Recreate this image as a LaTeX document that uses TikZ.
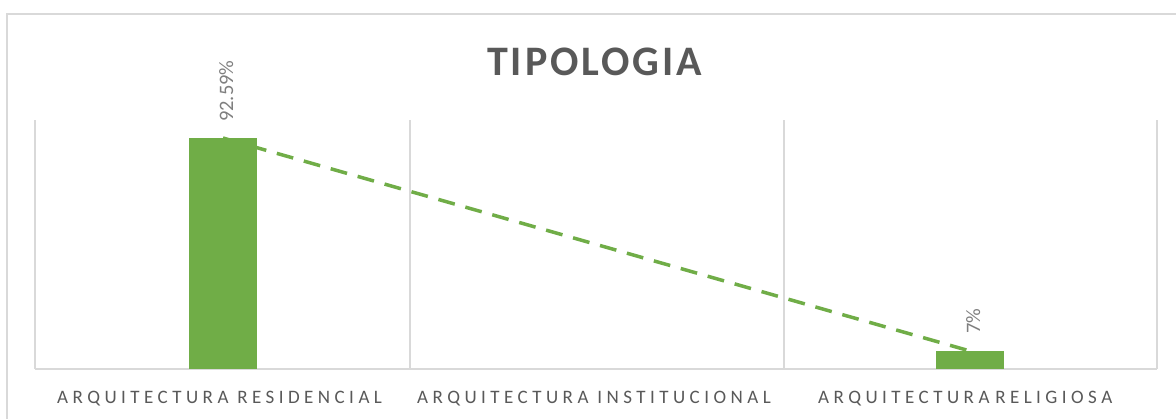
\documentclass[tikz,border=0pt]{standalone}
\usepackage{fontspec}
\setmainfont{Carlito}
\definecolor{barfill}{HTML}{70AD47}
\definecolor{gridc}{HTML}{D9D9D9}
\definecolor{txt}{HTML}{595959}
\definecolor{lbl}{HTML}{7F7F7F}
\begin{document}
\begin{tikzpicture}[x=1pt,y=-1pt,
  gridline/.style={draw=gridc,line width=1.3pt},
  bar/.style={fill=barfill,draw=none,minimum width=68pt,inner sep=0pt,outer sep=0pt},
  cat/.style={inner sep=0pt,anchor=base west,text=txt,font=\fontsize{19}{19}\selectfont\addfontfeature{LetterSpace=23.5}},
  val/.style={inner sep=0pt,anchor=base west,rotate=90,text=lbl,font=\fontsize{20.5}{20}\selectfont},
  ttl/.style={inner sep=0pt,anchor=base west,text=txt,font=\fontsize{42}{42}\selectfont\bfseries\addfontfeature{LetterSpace=7}},
  trend/.style={draw=barfill,line width=3.5pt,dash pattern=on 17pt off 11pt}
]
\useasboundingbox (0,0) rectangle (1176,418);
\fill[white] (0,0) rectangle (1176,418);
\begin{scope}
\clip (0,0) rectangle (1176,418);
\draw[gridc,line width=1.5pt] (7,14) rectangle (1190,430);
\end{scope}
% plot area grid
\draw[gridline] (35,120) -- (35,369);
\draw[gridline] (410,120) -- (410,369);
\draw[gridline] (784,120) -- (784,369);
\draw[gridline] (1157,120) -- (1157,369);
\draw[gridline] (35,369) -- (1157,369);
% bars
\node[bar,minimum height=231pt,anchor=south] (b1) at (223,369) {};
\node[bar,minimum height=18pt,anchor=south] (b3) at (970,369) {};
% trend line
\draw[trend] (b1.north) -- (b3.north);
% title
\node[ttl] (title) at (487,75) {TIPOLOGIA};
% value labels
\node[val] (v1) at (233,122) {92.59\%};
\node[val] (v3) at (980,334) {7\%};
% category labels
\node[cat] (c1) at (57,403) {ARQUITECTURA RESIDENCIAL};
\node[cat] (c2) at (417,403) {ARQUITECTURA INSTITUCIONAL};
\node[cat] (c3) at (818,403) {ARQUITECTURA\kern-3pt{} RELIGIOSA};
\end{tikzpicture}
\end{document}
